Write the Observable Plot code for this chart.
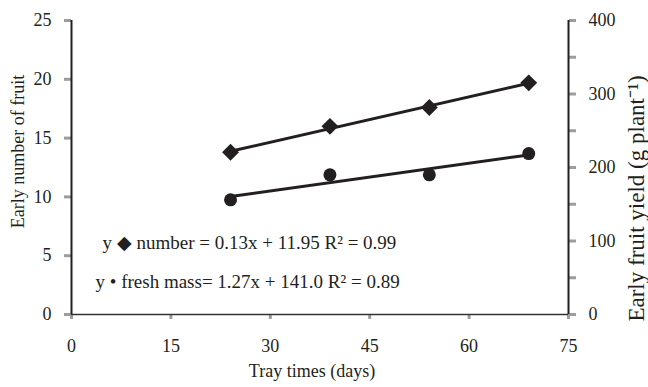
<!DOCTYPE html>
<html>
<head>
<meta charset="utf-8">
<script src="https://cdn.jsdelivr.net/npm/d3@7"></script>
<script src="https://cdn.jsdelivr.net/npm/@observablehq/plot@0.6"></script>
<style>
  html, body { margin: 0; padding: 0; background: #fff; }
</style>
</head>
<body>
<div id="chart"></div>
<script>
// Data
const trayDays = [24, 39, 54, 69];
const fruitNumber = [13.8, 16.0, 17.6, 19.7];   // left axis (Early number of fruit)
const freshMass = [156, 190, 190, 219];         // right axis (g plant-1)

const xTicks = [0, 15, 30, 45, 60, 75];
const leftTicks = [0, 5, 10, 15, 20, 25];
const rightTicks = [0, 50, 100, 150, 200, 250, 300, 350, 400];
const rightLabelTicks = [0, 100, 200, 300, 400];

const leftMax = 25, rightMax = 400;
const k = leftMax / rightMax; // right units -> left units

const xLabel = "Tray times (days)";
const leftLabel = "Early number of fruit";
const rightLabel = "Early fruit yield (g plant\u207B\u00B9)";
const eqNumber = "y \u25C6 number = 0.13x + 11.95 R\u00B2 = 0.99";
const eqMass = "y \u2022 fresh mass= 1.27x + 141.0 R\u00B2 = 0.89";

const numberData = trayDays.map((d, i) => ({x: d, y: fruitNumber[i]}));
const massData = trayDays.map((d, i) => ({x: d, y: freshMass[i] * k}));

const ink = "#231f20";
const tickGray = "#9d9d9d";

const chart = Plot.plot({
  width: 648,
  height: 387,
  marginLeft: 71,
  marginRight: 80,
  marginTop: 20,
  marginBottom: 73,
  style: {fontFamily: "'Liberation Serif', 'Times New Roman', serif", fontSize: "18px", color: ink, background: "#fff"},
  x: {domain: [0, 75]},
  y: {domain: [0, leftMax]},
  marks: [
    // bottom axis
    Plot.axisX(xTicks, {anchor: "bottom", tickSize: 5, tickPadding: 20, stroke: tickGray, strokeWidth: 3, fill: ink, label: null, fontSize: 18}),
    // left axis
    Plot.axisY(leftTicks, {anchor: "left", tickSize: 7, tickPadding: 13, stroke: tickGray, strokeWidth: 3, fill: ink, label: null, fontSize: 18}),
    // right axis (scaled)
    Plot.axisY(rightTicks.map(v => v * k), {anchor: "right", tickSize: 7, tickPadding: 13, stroke: tickGray, strokeWidth: 3, fill: ink, label: null, fontSize: 18,
      tickFormat: (d) => { const v = Math.round(d / k); return rightLabelTicks.includes(v) ? String(v) : ""; }}),
    // axis lines
    Plot.ruleY([0], {stroke: "#333", strokeWidth: 1.5}),
    Plot.ruleX([0], {stroke: ink, strokeWidth: 2}),
    Plot.ruleX([75], {stroke: ink, strokeWidth: 2}),
    // trend lines
    Plot.linearRegressionY(numberData, {x: "x", y: "y", ci: 0, stroke: ink, strokeWidth: 3}),
    Plot.linearRegressionY(massData, {x: "x", y: "y", ci: 0, stroke: ink, strokeWidth: 3}),
    // points
    Plot.dot(numberData, {x: "x", y: "y", symbol: "diamond2", r: 7.6, fill: ink, stroke: "none"}),
    Plot.dot(massData, {x: "x", y: "y", symbol: "circle", r: 6.5, fill: ink, stroke: "none"}),
    // equations
    Plot.text([eqNumber], {frameAnchor: "bottom-left", textAnchor: "start", dx: 31, dy: -66, fill: ink, fontSize: 19}),
    Plot.text([eqMass], {frameAnchor: "bottom-left", textAnchor: "start", dx: 24, dy: -27, fill: ink, fontSize: 19}),
    // axis titles
    Plot.text([xLabel], {frameAnchor: "bottom", textAnchor: "middle", dx: -8, dy: 62, fill: ink, fontSize: 18}),
    Plot.text([leftLabel], {frameAnchor: "left", textAnchor: "middle", rotate: -90, dx: -53, dy: -16, fill: ink, fontSize: 18}),
    Plot.text([rightLabel], {frameAnchor: "right", textAnchor: "middle", rotate: -90, dx: 68, dy: 31, fill: ink, fontSize: 23})
  ]
});
document.getElementById("chart").append(chart);
</script>
</body>
</html>
